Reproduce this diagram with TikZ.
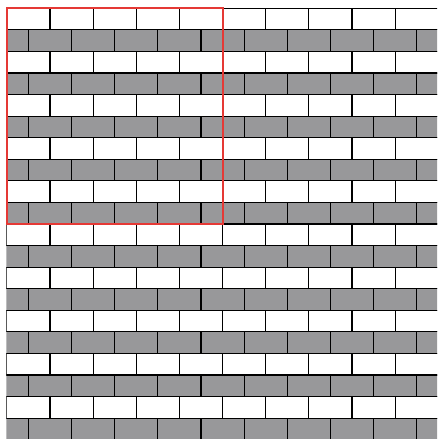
\documentclass[tikz,border=0pt]{standalone}
\definecolor{brickgray}{RGB}{152,152,154}
\definecolor{framered}{RGB}{229,57,53}
\tikzset{
  whitebrick/.style={draw=black, fill=white, line width=1.1pt},
  graybrick/.style={draw=black, fill=brickgray, line width=1.1pt},
  frame/.style={draw=framered, line width=2.2pt}
}
\begin{document}
\begin{tikzpicture}[x=1pt,y=-1pt]
\useasboundingbox (0,0) rectangle (437,439);
\def\bw{43.14}
\def\bh{21.57}
\def\xo{6.9}
\def\yo{8.3}
\begin{scope}
  \clip (\xo-0.6,\yo-0.6) rectangle (437,439);
  \foreach \k in {0,2,...,18} {
    \foreach \i in {0,...,10} {
      \path[whitebrick] ({\xo+\i*\bw},{\yo+\k*\bh}) rectangle ++(\bw,\bh);
    }
  }
  \foreach \k in {1,3,...,19} {
    \foreach \i in {0,...,11} {
      \path[graybrick] ({\xo-0.5*\bw+\i*\bw},{\yo+\k*\bh}) rectangle ++(\bw,\bh);
    }
  }
\end{scope}
\coordinate (f1) at (\xo,\yo);
\coordinate (f2) at ({\xo+5*\bw},{\yo+10*\bh});
\path[frame] (f1) rectangle (f2);
\end{tikzpicture}
\end{document}
